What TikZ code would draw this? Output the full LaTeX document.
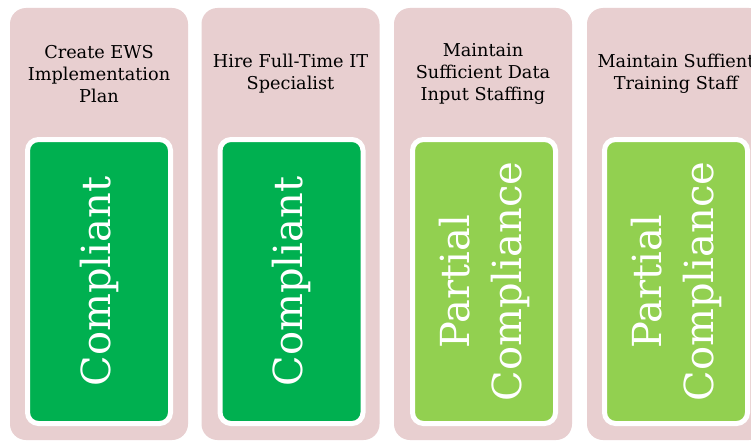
\documentclass[tikz,border=0pt]{standalone}
\usepackage{fontspec}
\setmainfont{DejaVu Serif}
\definecolor{pinkbg}{RGB}{232,207,208}
\definecolor{darkgreen}{RGB}{0,176,80}
\definecolor{lightgreen}{RGB}{146,208,80}
\begin{document}
\begin{tikzpicture}[x=1pt,y=-1pt,
  column/.style={fill=pinkbg, draw=none, rounded corners=16pt, minimum width=178pt, minimum height=432pt, inner sep=0pt},
  statusbox/.style={draw=white, line width=5pt, rounded corners=11pt, minimum width=143pt, minimum height=284pt, inner sep=0pt},
  titletext/.style={align=center, font=\fontsize{17.7}{22}\selectfont, inner sep=0pt},
  statustext/.style={rotate=90, align=center, text=white, font=\fontsize{40}{52}\selectfont, inner sep=0pt}]
\clip (0,0) rectangle (751,441);
\fill[white] (0,0) rectangle (751,441);
% columns
\node[column] (c1) at (99,224) {};
\node[column] (c2) at (290.5,224) {};
\node[column] (c3) at (483,224) {};
\node[column] (c4) at (676,224) {};
% titles
\node[titletext] (t1) at (99,74) {Create EWS\\Implementation\\Plan};
\node[titletext] (t2) at (290.5,74) {Hire Full-Time IT\\Specialist};
\node[titletext] (t3) at (483,74) {Maintain\\Sufficient Data\\Input Staffing};
\node[titletext] (t4) at (676,74) {Maintain Suffient\\Training Staff};
% status boxes
\node[statusbox, fill=darkgreen] (g1) at (99,281.5) {};
\node[statusbox, fill=darkgreen] (g2) at (291.5,281.5) {};
\node[statusbox, fill=lightgreen] (g3) at (484,281.5) {};
\node[statusbox, fill=lightgreen] (g4) at (676,281.5) {};
% status texts
\node[statustext] (s1) at (g1) {Compliant};
\node[statustext] (s2) at (g2) {Compliant};
\node[statustext] (s3) at (g3) {Partial\\Compliance};
\node[statustext] (s4) at (g4) {Partial\\Compliance};
\end{tikzpicture}
\end{document}
